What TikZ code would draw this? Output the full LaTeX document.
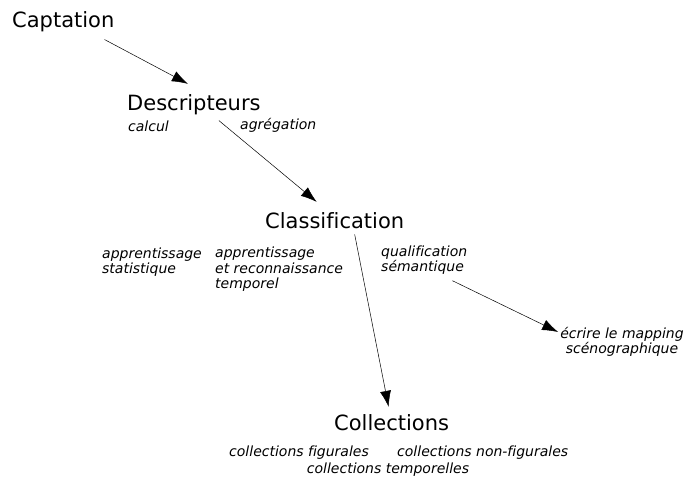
\documentclass[tikz,border=0pt]{standalone}
\usepackage{fontspec}
\setmainfont[Ligatures=NoCommon]{DejaVu Sans}
\usetikzlibrary{arrows.meta,positioning}

\tikzset{
  stage/.style={font=\fontsize{21}{25}\selectfont,inner sep=0pt},
  task/.style={font=\fontsize{14}{15.5}\selectfont\itshape,inner sep=0pt,align=left},
  flow/.style={-{Latex[length=16pt,width=11pt]},line width=0.5pt}
}

\begin{document}
\begin{tikzpicture}[x=1pt,y=-1pt]
    \useasboundingbox (0,0) rectangle (690,477);

    \node[stage,anchor=base west](capt) at (12,27) {Captation};
    \node[stage,anchor=base west](desc) at (127,110) {Descripteurs};
    \node[stage,anchor=base west](class) at (265,228) {Classification};
    \node[stage,anchor=base west](coll) at (334,430) {Collections};

    \node[task,anchor=base west](calcul) at (128,131) {calcul};
    \node[task,anchor=base west](agreg) at (240,129) {agrégation};

    \node[task,anchor=west](appstat) at (102,262) {apprentissage\\statistique};
    \node[task,anchor=west](apptemp) at (215,269.5) {apprentissage\\et reconnaissance\\temporel};
    \node[task,anchor=west](qualif) at (381,260) {qualification\\sémantique};
    \node[task,align=center](mapping) at (622,342) {écrire le mapping\\scénographique};

    \node[task,anchor=base west](figur) at (229,456) {collections figurales};
    \node[task,anchor=base west](nonfig) at (397,456) {collections non-figurales};
    \node[task,anchor=base](tempo) at (388,473) {collections temporelles};

    \begin{scope}
      \draw[flow] ([shift={(-10,8)}]capt.south east) -- ([shift={(-6,-10)}]desc.north);
      \draw[flow] ([shift={(25,6)}]desc.south) -- ([shift={(-18,-10)}]class.north);
      \draw[flow] ([shift={(20,6)}]class.south) -- ([shift={(-3,-7)}]coll.north);
      \draw[flow] ([shift={(-15,6)}]qualif.south east) -- ([shift={(-2,5)}]mapping.north west);
    \end{scope}
  \end{tikzpicture}
\end{document}
